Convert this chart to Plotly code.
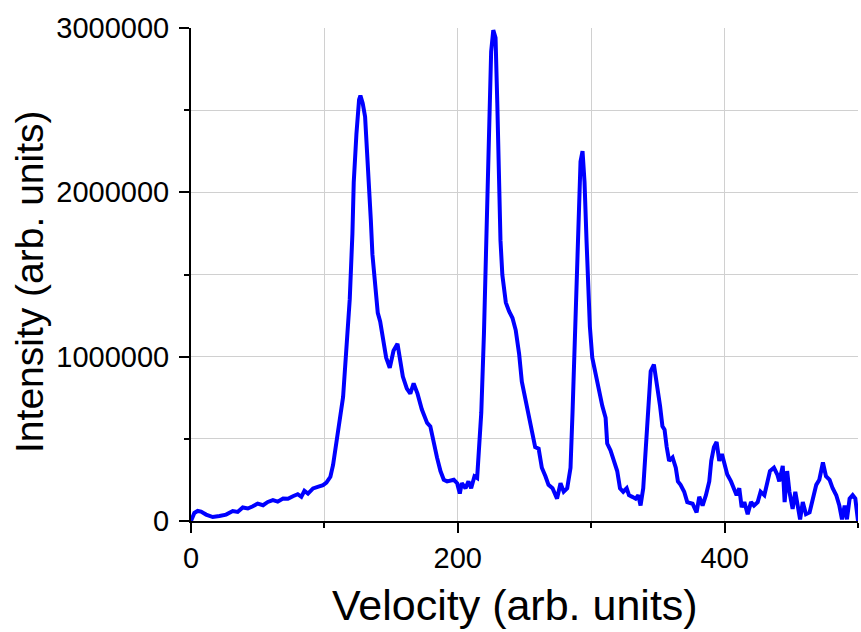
import plotly.graph_objects as go

velocity = [0, 2.5, 5, 7.5, 11.3, 16.3, 21.3, 26.3, 31.3, 35, 38.8, 42.6, 46.4, 50, 54, 57.6, 61.4, 65, 69, 72.7,
            76.4, 80, 82.7, 85, 87.7, 91.5, 95, 99, 101.5, 104.5, 106.5, 109, 111.5, 114, 116.7, 119, 121, 122,
            124, 126, 127, 128.7, 130.5, 132, 133.7, 134.8, 136, 138, 140, 141.8, 143.8, 146.3, 149, 151.8, 154.8,
            156.3, 158.8, 161.8, 164.4, 166.9, 169.8, 173, 177, 179.4, 182, 184.4, 187, 189.5, 192, 197, 199.5,
            201.5, 203, 205.8, 208, 210, 212.5, 214.5, 215.8, 217.6, 219.6, 221.6, 223.3, 225, 226.6, 228.3,
            229.6, 230.8, 232, 233.4, 236, 238.4, 241, 243.4, 246, 248, 250.6, 253, 255.6, 258, 260.6, 263,
            265.7, 268, 271, 274.4, 277, 279.4, 282, 284.5, 286, 287.5, 289, 290.7, 292, 293.5, 295, 296.5,
            297.5, 299, 300.8, 303.3, 305.8, 308.3, 310.8, 312, 314.5, 317, 319.5, 321.6, 324, 326.6, 328.3,
            330.8, 333.3, 335.3, 337, 339, 340.9, 342.6, 344.6, 347, 349, 351.6, 353.4, 355, 356.6, 358.4, 361,
            363.4, 365, 367, 369.7, 372, 376, 379, 381, 383.5, 386, 388.5, 390, 392, 394, 396, 398, 400, 402,
            404.8, 407, 409, 411, 412.8, 414.8, 417.3, 419.8, 422, 424.8, 427, 429.8, 432, 434, 437, 439.5, 441,
            443.6, 445, 446.9, 448.6, 451, 453, 455, 456.6, 458.6, 461, 463.7, 466, 468.7, 471, 473.7, 476,
            478.7, 481, 483.7, 486, 488, 490, 491.7, 493.7, 496, 498, 500]

intensity = [0, 49000, 61000, 57000, 39000, 24000, 31000, 39000, 61000, 55000, 82000, 76000, 90000, 106000, 96000,
             116000, 127000, 118000, 137000, 135000, 151000, 163000, 147000, 184000, 167000, 198000, 208000, 218000,
             233000, 269000, 341000, 463000, 616000, 754000, 1036000, 1350000, 1748000, 2062000, 2355000, 2564000,
             2589000, 2543000, 2460000, 2271000, 2062000, 1832000, 1622000, 1434000, 1267000, 1214000, 1099000,
             994000, 932000, 1036000, 1078000, 994000, 879000, 806000, 775000, 837000, 775000, 680000, 597000,
             576000, 471000, 387000, 304000, 251000, 241000, 251000, 230000, 167000, 230000, 199000, 241000, 199000,
             272000, 262000, 429000, 659000, 1141000, 1748000, 2376000, 2857000, 2987000, 2941000, 2543000, 2020000,
             1706000, 1497000, 1329000, 1277000, 1235000, 1162000, 1015000, 848000, 743000, 628000, 534000, 450000,
             440000, 324000, 272000, 220000, 199000, 136000, 230000, 178000, 199000, 324000, 659000, 1078000,
             1497000, 1915000, 2188000, 2250000, 2062000, 1706000, 1455000, 1183000, 994000, 890000, 806000, 701000,
             628000, 471000, 429000, 366000, 304000, 199000, 178000, 199000, 157000, 147000, 136000, 157000, 94000,
             199000, 450000, 743000, 911000, 952000, 848000, 701000, 576000, 555000, 450000, 366000, 387000, 324000,
             241000, 220000, 178000, 115000, 105000, 52000, 147000, 94000, 157000, 241000, 366000, 450000, 481000,
             366000, 408000, 345000, 283000, 241000, 199000, 157000, 199000, 84000, 115000, 42000, 115000, 94000,
             115000, 178000, 157000, 241000, 304000, 324000, 283000, 241000, 335000, 115000, 304000, 178000, 73000,
             178000, 73000, 10000, 115000, 42000, 52000, 126000, 220000, 251000, 356000, 272000, 251000, 199000,
             157000, 94000, 10000, 94000, 10000, 136000, 157000, 136000, 0]

x_ticks = [0, 200, 400]
y_ticks = [0, 1000000, 2000000, 3000000]
y_tick_labels = ["0", "1000000", "2000000", "3000000"]
x_title = "Velocity (arb. units)"
y_title = "Intensity (arb. units)"

FONT = "Liberation Sans, Arial, sans-serif"
GRID = "#d0d0d0"

fig = go.Figure()
fig.add_trace(go.Scatter(x=velocity, y=intensity, mode="lines",
                         line=dict(color="#0000ff", width=4), showlegend=False))

fig.update_layout(
    width=861, height=632,
    margin=dict(l=191, r=3, t=28, b=111),
    paper_bgcolor="white", plot_bgcolor="white",
    font=dict(family=FONT, color="black"),
    annotations=[
        dict(text=x_title, xref="paper", yref="paper", x=0.486, y=-0.170,
             xanchor="center", yanchor="middle", showarrow=False, font=dict(size=43, family=FONT)),
        dict(text=y_title, xref="paper", yref="paper", x=-0.242, y=0.484, textangle=-90,
             xanchor="center", yanchor="middle", showarrow=False, font=dict(size=39, family=FONT)),
    ],
)
fig.update_xaxes(
    range=[0, 500], tickvals=x_ticks, ticks="outside", ticklen=10, tickwidth=2, tickcolor="black",
    showline=True, linecolor="black", linewidth=2, zeroline=False,
    showgrid=True, gridcolor=GRID, gridwidth=1,
    minor=dict(dtick=100, tick0=0, ticks="outside", ticklen=5, tickwidth=2, tickcolor="black",
               showgrid=True, gridcolor=GRID, gridwidth=1),
    tickfont=dict(size=29, family=FONT),
)
fig.update_yaxes(
    range=[0, 3000000], tickvals=y_ticks, ticktext=y_tick_labels, ticks="outside", ticklen=10, tickwidth=2,
    tickcolor="black", showline=True, linecolor="black", linewidth=2, zeroline=False,
    showgrid=True, gridcolor=GRID, gridwidth=1,
    minor=dict(dtick=500000, tick0=0, ticks="outside", ticklen=5, tickwidth=2, tickcolor="black",
               showgrid=True, gridcolor=GRID, gridwidth=1),
    tickfont=dict(size=29, family=FONT), ticklabelstandoff=4,
)

fig.write_html("out.html", config={"displayModeBar": False},
               post_script="document.body.style.margin='0';document.body.style.padding='0';"
                           "document.body.style.overflow='hidden';")
